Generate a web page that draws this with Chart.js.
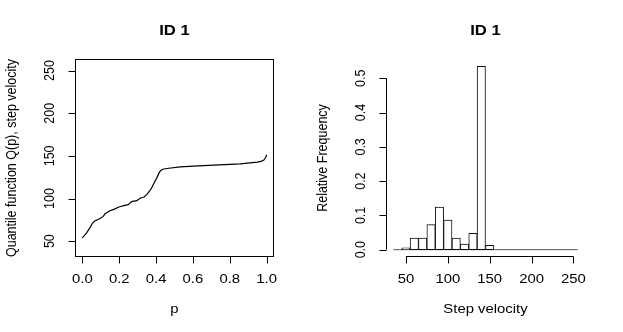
<!DOCTYPE html>
<html>
<head>
<meta charset="utf-8">
<script src="https://cdn.jsdelivr.net/npm/chart.js@4.4.1/dist/chart.umd.min.js"></script>
<style>
  html, body { margin: 0; padding: 0; background: #fff; }
  #wrap { position: relative; width: 623px; height: 332px; overflow: hidden; }
  canvas { position: absolute; top: 0; }
</style>
</head>
<body>
<div id="wrap">
  <canvas id="qplot" width="311" height="332" style="left:0"></canvas>
  <canvas id="hplot" width="312" height="332" style="left:311px"></canvas>
</div>
<script>
// quantile function
const pVals = [0, 0.022, 0.04, 0.055, 0.067, 0.091, 0.113, 0.124, 0.149, 0.171, 0.198, 0.225, 0.249,
  0.267, 0.295, 0.313, 0.335, 0.349, 0.364, 0.376, 0.389, 0.404, 0.418, 0.431, 0.458, 0.531,
  0.604, 0.713, 0.858, 0.949, 0.97, 0.985, 0.995, 1.0];
const qVals = [53.9, 59.4, 65.3, 71.2, 73.6, 75.9, 79.0, 82.2, 85.7, 87.3, 90.0, 91.6, 92.8,
  96.3, 97.5, 100.3, 101.8, 104.6, 108.5, 112.4, 118.3, 124.2, 130.9, 134.0, 135.2, 137.2,
  138.0, 139.1, 140.7, 142.7, 143.6, 145.0, 148.0, 151.3];

// histogram, bins of width 10 from 35 to 255
const binMids = [40, 50, 60, 70, 80, 90, 100, 110, 120, 130, 140, 150, 160, 170, 180, 190, 200, 210, 220, 230, 240, 250];
const relFreq = [0, 0.005, 0.034, 0.034, 0.073, 0.1245, 0.0866, 0.034, 0.0165, 0.0477, 0.535, 0.0126,
  0, 0, 0, 0, 0, 0, 0, 0, 0, 0];
const binEdges = [35, 255];

const qTicksX = [0, 0.2, 0.4, 0.6, 0.8, 1.0];
const qTicksY = [50, 100, 150, 200, 250];
const hTicksX = [50, 100, 150, 200, 250];
const hTicksY = [0, 0.1, 0.2, 0.3, 0.4, 0.5];

const FONT = '"Liberation Sans", Arial, Helvetica, sans-serif';
const SX = 1.19; // the reference text is a bit wider than tall

function txt(ctx, s, x, y, size, opts) {
  opts = opts || {};
  ctx.save();
  ctx.translate(x, y);
  ctx.scale(SX, 1);
  if (opts.rot) ctx.rotate(-Math.PI / 2);
  ctx.font = (opts.bold ? 'bold ' : '') + size + 'px ' + FONT;
  ctx.fillStyle = '#000';
  ctx.textAlign = 'center';
  ctx.textBaseline = opts.base || 'middle';
  ctx.fillText(s, 0, 0);
  ctx.restore();
}

// R style axes, box and titles
const rAxes = {
  id: 'rAxes',
  afterDraw(chart, args, o) {
    const ctx = chart.ctx;
    const a = chart.chartArea;
    const xs = chart.scales.x, ys = chart.scales.y;
    ctx.save();
    ctx.strokeStyle = '#000';
    ctx.lineWidth = 1;
    if (o.box) {
      ctx.strokeRect(a.left + 0.5, a.top + 0.5, a.right - a.left - 1, a.bottom - a.top - 1);
    }
    // x axis
    const yb = a.bottom - 0.5;
    const x0 = xs.getPixelForValue(o.xt[0]), x1 = xs.getPixelForValue(o.xt[o.xt.length - 1]);
    ctx.beginPath();
    ctx.moveTo(x0, yb); ctx.lineTo(x1, yb);
    o.xt.forEach(v => {
      const px = Math.round(xs.getPixelForValue(v)) + 0.5;
      ctx.moveTo(px, yb); ctx.lineTo(px, yb + 7);
    });
    // y axis
    const xl = a.left + 0.5;
    const y0 = ys.getPixelForValue(o.yt[0]), y1 = ys.getPixelForValue(o.yt[o.yt.length - 1]);
    ctx.moveTo(xl, y0); ctx.lineTo(xl, y1);
    o.yt.forEach(v => {
      const py = Math.round(ys.getPixelForValue(v)) + 0.5;
      ctx.moveTo(xl, py); ctx.lineTo(xl - 7, py);
    });
    ctx.stroke();
    ctx.restore();

    o.xt.forEach((v, i) => txt(ctx, o.xl[i], xs.getPixelForValue(v), a.bottom + 23, 12.5));
    o.yt.forEach((v, i) => txt(ctx, o.yl[i], a.left - 25.5, ys.getPixelForValue(v), 12.5, { rot: true }));
    const cx = (a.left + a.right) / 2, cy = (a.top + a.bottom) / 2;
    txt(ctx, o.title, cx, 35, 14, { bold: true, base: 'alphabetic' });
    txt(ctx, o.xlab, cx, 313, 12.5, { base: 'alphabetic' });
    txt(ctx, o.ylab, a.left - 63, cy, 12.5, { rot: true });
  }
};

const pad = { left: 75, right: 37, top: 59, bottom: 75 };

new Chart(document.getElementById('qplot'), {
  type: 'line',
  data: {
    datasets: [{
      data: pVals.map((p, i) => ({ x: p, y: qVals[i] })),
      borderColor: '#000',
      borderWidth: 1.2,
      pointRadius: 0,
      tension: 0,
      fill: false
    }]
  },
  options: {
    responsive: false,
    animation: false,
    layout: { padding: pad },
    scales: {
      x: { type: 'linear', min: -0.04, max: 1.04, display: false },
      y: { type: 'linear', min: 31.4, max: 263.6, display: false }
    },
    plugins: {
      legend: { display: false },
      tooltip: { enabled: false },
      rAxes: {
        box: true,
        xt: qTicksX, xl: qTicksX.map(v => v.toFixed(1)),
        yt: qTicksY, yl: qTicksY.map(String),
        title: 'ID 1', xlab: 'p', ylab: 'Quantile function Q(p), step velocity'
      }
    }
  },
  plugins: [rAxes]
});

new Chart(document.getElementById('hplot'), {
  type: 'bar',
  data: {
    datasets: [{
      type: 'line',
      data: binEdges.map(x => ({ x: x, y: 0 })),
      borderColor: '#555',
      borderWidth: 1,
      pointRadius: 0,
      order: 2
    }, {
      data: binMids.map((m, i) => ({ x: m, y: relFreq[i] })),
      backgroundColor: '#fff',
      borderColor: '#111',
      borderWidth: 1,
      borderSkipped: false,
      barPercentage: 1,
      categoryPercentage: 1,
      order: 1
    }]
  },
  options: {
    responsive: false,
    animation: false,
    layout: { padding: { left: 75, right: 38, top: 59, bottom: 75 } },
    scales: {
      x: { type: 'linear', min: 26.2, max: 263.8, offset: false, display: false },
      y: { type: 'linear', min: -0.0214, max: 0.5564, display: false }
    },
    plugins: {
      legend: { display: false },
      tooltip: { enabled: false },
      rAxes: {
        box: false,
        xt: hTicksX, xl: hTicksX.map(String),
        yt: hTicksY, yl: hTicksY.map(v => v.toFixed(1)),
        title: 'ID 1', xlab: 'Step velocity', ylab: 'Relative Frequency'
      }
    }
  },
  plugins: [rAxes]
});
</script>
</body>
</html>
